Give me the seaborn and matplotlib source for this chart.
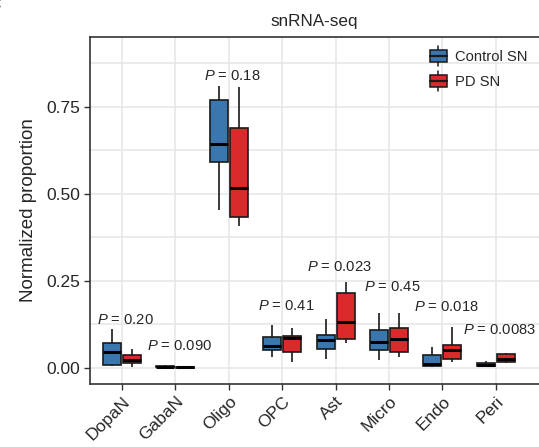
import numpy as np
import pandas as pd
import matplotlib
matplotlib.use("Agg")
import matplotlib.pyplot as plt
from matplotlib.legend_handler import HandlerBase
from matplotlib.patches import Rectangle
from matplotlib.lines import Line2D
from matplotlib.ticker import MultipleLocator
import seaborn as sns

# ---- data: five-number summaries (min, Q1, median, Q3, max) per cell type ----
cell_types = ["DopaN", "GabaN", "Oligo", "OPC", "Ast", "Micro", "Endo", "Peri"]
groups = ["Control SN", "PD SN"]

control_sn = [
    [0.005, 0.009, 0.047, 0.072, 0.111],
    [0.001, 0.003, 0.004, 0.006, 0.009],
    [0.454, 0.592, 0.643, 0.770, 0.810],
    [0.032, 0.052, 0.063, 0.090, 0.124],
    [0.025, 0.054, 0.079, 0.095, 0.140],
    [0.023, 0.052, 0.074, 0.109, 0.157],
    [0.003, 0.006, 0.011, 0.036, 0.059],
    [0.003, 0.005, 0.009, 0.014, 0.019],
]
pd_sn = [
    [0.003, 0.015, 0.023, 0.037, 0.055],
    [0.000, 0.001, 0.0015, 0.002, 0.003],
    [0.408, 0.435, 0.516, 0.689, 0.807],
    [0.018, 0.047, 0.085, 0.093, 0.114],
    [0.073, 0.083, 0.131, 0.216, 0.248],
    [0.031, 0.045, 0.083, 0.114, 0.157],
    [0.018, 0.026, 0.052, 0.066, 0.119],
    [0.014, 0.016, 0.026, 0.039, 0.044],
]
p_values = ["0.20", "0.090", "0.18", "0.41", "0.023", "0.45", "0.018", "0.0083"]

# vertical placement of the P-value labels
p_label_y = [0.138, 0.063, 0.839, 0.178, 0.291, 0.234, 0.174, 0.109]

# ---- long-form table ----
rows = []
for grp, stats in zip(groups, [control_sn, pd_sn]):
    for ct, vals in zip(cell_types, stats):
        for v in vals:
            rows.append({"cell_type": ct, "group": grp, "proportion": v})
df = pd.DataFrame(rows)

# ---- style ----
sns.set_theme(style="white")
plt.rcParams["font.family"] = ["Liberation Sans", "DejaVu Sans"]
plt.rcParams["mathtext.fontset"] = "custom"
plt.rcParams["mathtext.it"] = "Liberation Sans:italic"
plt.rcParams["mathtext.rm"] = "Liberation Sans"

colors = {"Control SN": "#3A77AF", "PD SN": "#DA2A2B"}
edge = "#1a1a1a"
text_col = "#262626"
grid_col = "#E6E6E6"

fig = plt.figure(figsize=(5.39, 4.47), dpi=100)
ax = fig.add_axes([90 / 539, (447 - 384) / 447, 1 - 90 / 539, (384 - 37) / 447])

sns.boxplot(
    data=df, x="cell_type", y="proportion", hue="group",
    order=cell_types, hue_order=groups, palette=colors,
    width=0.75, gap=0.1, whis=np.inf, saturation=1,
    linecolor=edge, linewidth=1.2,
    medianprops={"linewidth": 2.2, "color": "black"},
    showcaps=False, ax=ax, legend=False, zorder=3,
)

# axes limits and grid
ax.set_xlim(-0.6, 7.81)
ax.set_ylim(-0.046, 0.951)
ax.yaxis.set_major_locator(MultipleLocator(0.25))
ax.yaxis.set_minor_locator(MultipleLocator(0.125))
ax.set_yticks([0, 0.25, 0.5, 0.75])
ax.set_yticklabels(["0.00", "0.25", "0.50", "0.75"])
ax.grid(True, which="major", color=grid_col, linewidth=1.1, zorder=0)
ax.grid(True, which="minor", axis="y", color=grid_col, linewidth=1.1, zorder=0)
ax.set_axisbelow(True)

for side in ["left", "bottom", "top"]:
    ax.spines[side].set_visible(True)
    ax.spines[side].set_color("#333333")
    ax.spines[side].set_linewidth(1.2)
ax.spines["right"].set_visible(False)

ax.tick_params(axis="both", which="major", length=4, width=1, color="#333333",
               labelsize=12.5, labelcolor=text_col, pad=3, left=True, bottom=True)
ax.tick_params(axis="y", which="minor", length=0)
plt.setp(ax.get_xticklabels(), rotation=45, ha="right", rotation_mode="anchor")

ax.set_xlabel("")
ax.set_ylabel("Normalized proportion", fontsize=13.5, color=text_col, labelpad=7)
ax.set_title("snRNA-seq", fontsize=12.3, color=text_col, pad=8)

# P-value annotations
for i, (p, y) in enumerate(zip(p_values, p_label_y)):
    ax.text(i + 0.07, y, r"$\it{P}$ = " + p, ha="center", va="center",
            fontsize=10.6, color=text_col, zorder=4)


# legend glyph: a small box with a median line and whisker stubs
class BoxHandler(HandlerBase):
    def create_artists(self, legend, orig_handle, xdescent, ydescent,
                       width, height, fontsize, trans):
        fc = orig_handle.get_facecolor()
        bh = height * 1.0
        y0 = -ydescent + (height - bh) / 2
        rect = Rectangle((-xdescent, y0), width, bh, facecolor=fc,
                         edgecolor=edge, linewidth=1.1, transform=trans)
        cx = -xdescent + width / 2
        med = Line2D([-xdescent, -xdescent + width], [y0 + bh / 2] * 2,
                     color=edge, linewidth=1.6, transform=trans)
        top = Line2D([cx, cx], [y0 + bh, y0 + bh + height * 0.35],
                     color=edge, linewidth=1.1, transform=trans)
        bot = Line2D([cx, cx], [y0, y0 - height * 0.35],
                     color=edge, linewidth=1.1, transform=trans)
        return [top, bot, rect, med]


handles = [Rectangle((0, 0), 1, 1, facecolor=colors[g]) for g in groups]
leg = ax.legend(handles, groups, handler_map={Rectangle: BoxHandler()},
                loc="upper left", bbox_to_anchor=(0.757, 0.962), frameon=False,
                fontsize=10.6, handlelength=1.15, handleheight=0.85,
                handletextpad=0.55, labelspacing=0.75, borderpad=0, borderaxespad=0)
for t in leg.get_texts():
    t.set_color(text_col)

# panel letter
fig.text(-0.026, 0.962, "c", fontsize=20, fontweight="bold", color="#1a1a1a",
         ha="left", va="bottom")

fig.savefig("out.png", dpi=100)
